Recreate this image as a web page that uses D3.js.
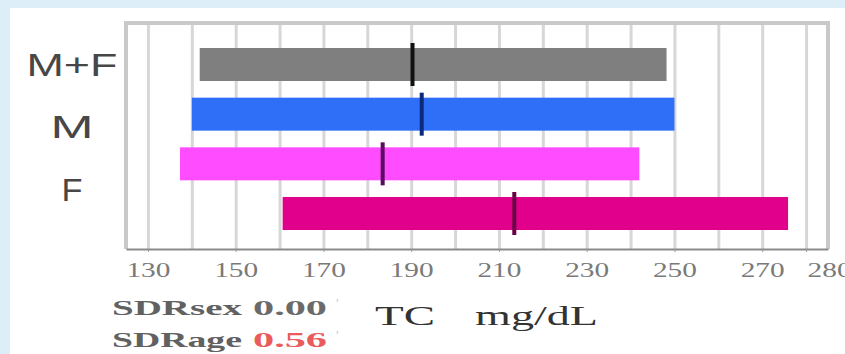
<!DOCTYPE html>
<html>
<head>
<meta charset="utf-8">
<script src="https://cdn.jsdelivr.net/npm/d3@7"></script>
<style>
  body { margin: 0; background: #ddeef9; }
  svg { display: block; }
</style>
</head>
<body>
<div id="app"></div>
<script>
// rows of the chart, top to bottom (last row has no label)
const rows = ["M+F", "M", "F", "F2"];
const rowLabels = ["M+F", "M", "F"];
const lower = [141.8, 140.0, 137.3, 160.7];
const upper = [248.2, 250.0, 242.0, 275.9];
const centre = [190.3, 192.4, 183.5, 213.5];
const tickVals = [130, 150, 170, 190, 210, 230, 250, 270, 280];
const sdrNames = ["SDRsex", "SDRage"];
const sdrVals = ["0.00", "0.56"];

const barColors = ["#7f7f7f", "#2f6ef6", "#ff4cff", "#e0008c"];
const markColors = ["#111111", "#0b2a7c", "#5c0a60", "#6a0045"];

const width = 845, height = 354;
const plotTop = 23, plotBottom = 249;

const svg = d3.select("#app").append("svg")
    .attr("width", width)
    .attr("height", height);

// white panel
svg.append("rect")
    .attr("x", 10).attr("y", 8)
    .attr("width", width).attr("height", height)
    .attr("fill", "#fff");

const x = d3.scaleLinear().domain([125, 285]).range([126, 828]);

const y = d3.scaleBand()
    .domain(rows)
    .range([48, 230])
    .paddingInner(0.3356);

const labelY = d3.scalePoint().domain(rowLabels).range([65, 190]);

// grid lines
const grid = svg.append("g")
    .attr("transform", `translate(0,${plotBottom})`)
    .call(d3.axisBottom(x).tickValues(d3.range(130, 281, 10)).tickSize(-(plotBottom - plotTop)).tickFormat(""));
grid.select(".domain").remove();
grid.selectAll(".tick line").attr("stroke", "#d7d7d7").attr("stroke-width", 3);

// frame: top and side borders
svg.append("path")
    .attr("d", `M${x(125)},${plotBottom} V${plotTop} H${x(285)} V${plotBottom}`)
    .attr("fill", "none")
    .attr("stroke", "#c9c9c9")
    .attr("stroke-width", 4);

// bars
svg.append("g").selectAll("rect")
    .data(rows)
    .join("rect")
    .attr("x", (d, i) => x(lower[i]))
    .attr("y", d => y(d))
    .attr("width", (d, i) => x(upper[i]) - x(lower[i]))
    .attr("height", y.bandwidth())
    .attr("fill", (d, i) => barColors[i]);

// centre markers
svg.append("g").selectAll("rect")
    .data(rows)
    .join("rect")
    .attr("x", (d, i) => x(centre[i]) - 2)
    .attr("y", d => y(d) - 5)
    .attr("width", 4)
    .attr("height", y.bandwidth() + 10)
    .attr("fill", (d, i) => markColors[i]);

// bottom axis
const axis = svg.append("g")
    .attr("transform", `translate(0,${plotBottom})`)
    .call(d3.axisBottom(x).tickValues(tickVals).tickSize(3).tickSizeOuter(0));
axis.select(".domain").attr("stroke", "#8a8a8a").attr("stroke-width", 2);
axis.selectAll(".tick line").attr("stroke", "#9a9a9a");
axis.selectAll(".tick text")
    .attr("y", 28)
    .attr("dy", 0)
    .attr("dx", d => d === 280 ? 23 : 0)
    .attr("fill", "#7a7a7a")
    .attr("font-family", "Liberation Serif")
    .attr("font-size", 20)
    .attr("textLength", 44)
    .attr("lengthAdjust", "spacingAndGlyphs");

// row labels
const lw = {"M+F": 91, "M": 43, "F": 21};
svg.append("g").selectAll("text")
    .data(rowLabels)
    .join("text")
    .attr("x", d => 72 - lw[d] / 2)
    .attr("y", d => labelY(d))
    .attr("dy", "0.35em")
    .attr("font-family", "Liberation Sans")
    .attr("font-size", 31)
    .attr("fill", "#474747")
    .attr("textLength", d => lw[d])
    .attr("lengthAdjust", "spacingAndGlyphs")
    .text(d => d);

// SDR notes
const sdrY = d3.scalePoint().domain(sdrNames).range([315, 347]);
const notes = svg.append("g");
notes.selectAll("text.name")
    .data(sdrNames)
    .join("text")
    .attr("class", "name")
    .attr("x", 112)
    .attr("y", d => sdrY(d))
    .attr("font-family", "Liberation Serif")
    .attr("font-weight", "bold")
    .attr("font-size", 21)
    .attr("fill", "#616161")
    .attr("textLength", 130)
    .attr("lengthAdjust", "spacingAndGlyphs")
    .text(d => d);
notes.selectAll("text.val")
    .data(sdrVals)
    .join("text")
    .attr("class", "val")
    .attr("x", 253)
    .attr("y", (d, i) => sdrY(sdrNames[i]))
    .attr("font-family", "Liberation Serif")
    .attr("font-weight", "bold")
    .attr("font-size", 21)
    .attr("fill", (d, i) => i === 1 ? "#ea5b5b" : "#6a6a6a")
    .attr("textLength", 74)
    .attr("lengthAdjust", "spacingAndGlyphs")
    .text(d => d);
notes.selectAll("text.tick-mark")
    .data(sdrNames)
    .join("text")
    .attr("class", "tick-mark")
    .attr("x", 336)
    .attr("y", d => sdrY(d) - 6)
    .attr("font-family", "Liberation Serif")
    .attr("font-size", 14)
    .attr("fill", "#c4ccd4")
    .text("'");

// unit title
svg.append("text")
    .attr("x", 375).attr("y", 325)
    .attr("font-family", "Liberation Serif")
    .attr("font-size", 28)
    .attr("fill", "#333")
    .attr("textLength", 60)
    .attr("lengthAdjust", "spacingAndGlyphs")
    .text("TC");
svg.append("text")
    .attr("x", 475).attr("y", 325)
    .attr("font-family", "Liberation Serif")
    .attr("font-size", 28)
    .attr("fill", "#333")
    .attr("textLength", 123)
    .attr("lengthAdjust", "spacingAndGlyphs")
    .text("mg/dL");
</script>
</body>
</html>
